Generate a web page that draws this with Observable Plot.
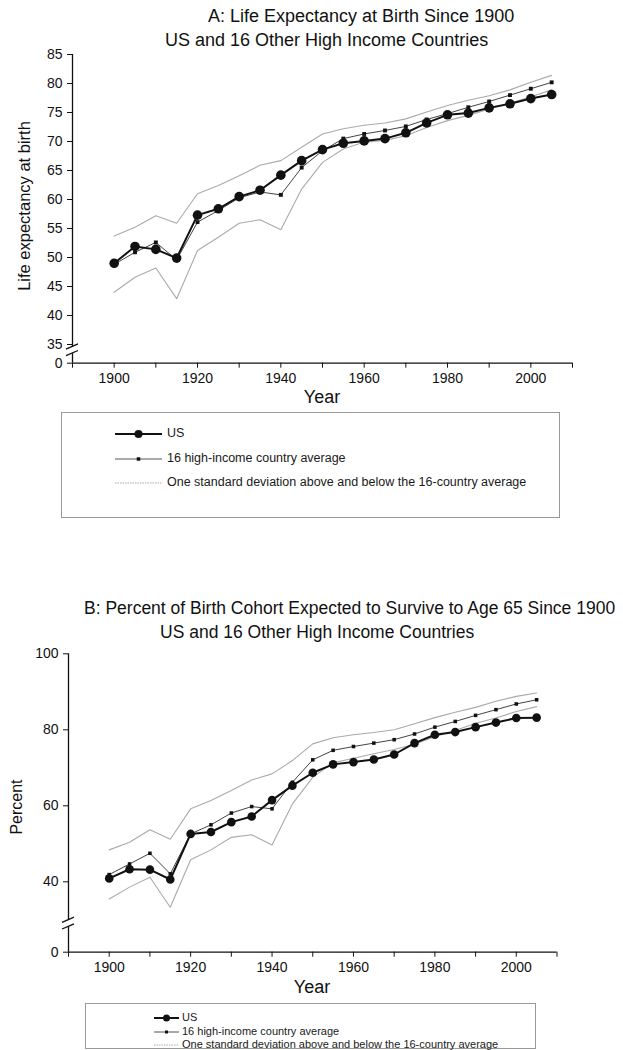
<!DOCTYPE html>
<html>
<head>
<meta charset="utf-8">
<script src="https://cdn.jsdelivr.net/npm/d3@7"></script>
<script src="https://cdn.jsdelivr.net/npm/@observablehq/plot@0.6"></script>
<style>
  body { margin: 0; background: #fff; }
  #page { position: relative; width: 623px; height: 1050px; overflow: hidden;
          font-family: "Liberation Sans", Arial, sans-serif; color: #111; background: #fff; }
  .abs { position: absolute; white-space: nowrap; line-height: 1; }
  .box { position: absolute; border: 1px solid #999; box-sizing: border-box; }
  svg.plot { position: absolute; left: 0; }
</style>
</head>
<body>
<div id="page"></div>
<script>
// ---------------- data ----------------
const years = [1900,1905,1910,1915,1920,1925,1930,1935,1940,1945,1950,1955,1960,1965,1970,1975,1980,1985,1990,1995,2000,2005];

// Panel A: life expectancy at birth
const lifeUS    = [49.0,51.9,51.4,49.9,57.3,58.4,60.5,61.6,64.2,66.7,68.6,69.7,70.1,70.5,71.5,73.2,74.6,74.9,75.8,76.5,77.4,78.1];
const lifeAvg   = [48.8,50.9,52.6,49.6,56.1,58.1,60.3,61.3,60.8,65.5,68.4,70.5,71.3,71.9,72.6,73.8,74.8,75.9,76.9,78.0,79.1,80.2];
const lifeUpper = [53.7,55.2,57.2,55.9,61.0,62.4,64.1,65.9,66.7,69.0,71.3,72.2,72.8,73.2,73.9,75.1,76.2,77.1,77.9,78.9,80.2,81.4];
const lifeLower = [44.0,46.6,48.2,42.9,51.2,53.5,55.9,56.5,54.8,61.8,66.4,68.7,69.9,70.2,71.0,72.4,73.6,74.5,75.6,76.6,77.7,78.9];

// Panel B: percent of birth cohort surviving to 65
const survUS    = [40.9,43.3,43.2,40.6,52.6,53.1,55.7,57.2,61.5,65.3,68.7,70.9,71.5,72.2,73.5,76.5,78.7,79.4,80.7,81.9,83.1,83.2];
const survAvg   = [41.9,44.7,47.5,42.1,52.6,55.0,58.1,59.8,59.2,66.2,72.1,74.6,75.6,76.5,77.4,78.9,80.7,82.2,83.8,85.3,86.8,87.9];
const survUpper = [48.4,50.4,53.7,51.2,59.2,61.4,64.0,66.8,68.4,71.9,76.3,77.9,78.7,79.3,80.0,81.6,83.2,84.6,85.9,87.5,88.8,89.7];
const survLower = [35.5,38.6,41.2,33.3,45.8,48.4,51.7,52.4,49.7,60.5,67.5,71.3,72.5,73.7,74.8,76.2,78.2,79.8,81.7,83.1,84.8,86.1];

const xDomain = [1890, 2010];
const xTicks = [1890,1900,1910,1920,1930,1940,1950,1960,1970,1980,1990,2000,2010];
const yTicksA = [0,35,40,45,50,55,60,65,70,75,80,85];
const yTicksB = [0,40,60,80,100];
const yDomainA = [0, 34, 85];   // piecewise (broken) axis
const yDomainB = [0, 29, 100];

const titlesA = ["A: Life Expectancy at Birth Since 1900", "US and 16 Other High Income Countries"];
const titlesB = ["B: Percent of Birth Cohort Expected to Survive to Age 65 Since 1900", "US and 16 Other High Income Countries"];
const yLabelA = "Life expectancy at birth";
const yLabelB = "Percent";
const xLabel = "Year";
const legendLabels = ["US", "16 high-income country average", "One standard deviation above and below the 16-country average"];

// ---------------- helpers ----------------
const FONT = '"Liberation Sans", Arial, sans-serif';
const page = document.getElementById("page");

function addText(txt, css) {
  const d = document.createElement("div");
  d.className = "abs";
  d.textContent = txt;
  Object.assign(d.style, css);
  page.appendChild(d);
  return d;
}

function rows(us, avg, up, lo) {
  return years.map((year, i) => ({year, us: us[i], avg: avg[i], upper: up[i], lower: lo[i]}));
}

function breakMark(value) {
  return (index, scales) => {
    const x = scales.x(xDomain[0]);
    const y = scales.y(value);
    const g = d3.create("svg:g");
    g.append("rect").attr("x", x - 3).attr("y", y - 3).attr("width", 6).attr("height", 6).attr("fill", "white");
    for (const dy of [-3.3, 3.3]) {
      g.append("line")
        .attr("x1", x - 6).attr("x2", x + 6)
        .attr("y1", y + dy + 2.6).attr("y2", y + dy - 2.6)
        .attr("stroke", "#111").attr("stroke-width", 1.3);
    }
    return g.node();
  };
}

function panel({data, top, height, marginLeft, marginRight, yDomain, yRange, yTicks, rUS, rAvg}) {
  const chart = Plot.plot({
    width: 623,
    height,
    marginLeft,
    marginRight,
    marginTop: yRange[yRange.length - 1],
    marginBottom: height - yRange[0],
    style: {fontFamily: FONT, fontSize: "14px", color: "#111", background: "transparent", overflow: "visible"},
    x: {domain: xDomain, ticks: xTicks, tickFormat: d => d % 20 === 0 ? String(d) : "", tickSize: 5, tickPadding: 5, label: null},
    y: {type: "linear", domain: yDomain, range: yRange, ticks: yTicks, tickFormat: d => String(d), tickSize: 5, tickPadding: 5, label: null},
    marks: [
      Plot.line(data, {x: "year", y: "upper", stroke: "#aaa", strokeWidth: 1.1}),
      Plot.line(data, {x: "year", y: "lower", stroke: "#aaa", strokeWidth: 1.1}),
      Plot.line(data, {x: "year", y: "avg", stroke: "#444", strokeWidth: 1}),
      Plot.dot(data, {x: "year", y: "avg", symbol: "square", r: rAvg, fill: "#111", stroke: "none"}),
      Plot.line(data, {x: "year", y: "us", stroke: "#111", strokeWidth: 2}),
      Plot.dot(data, {x: "year", y: "us", r: rUS, fill: "#111", stroke: "none"}),
      Plot.ruleY([yDomain[0]], {stroke: "#111", strokeWidth: 1.3}),
      Plot.ruleX([xDomain[0]], {y1: yDomain[0], y2: yDomain[yDomain.length - 1], stroke: "#111", strokeWidth: 1.3}),
      breakMark(yDomain[1])
    ]
  });
  chart.classList.add("plot");
  chart.style.top = top + "px";
  page.appendChild(chart);
}

function legend({left, top, width, height, ys, x1, x2, textX, fontSize, rUS, sq}) {
  const box = document.createElement("div");
  box.className = "box";
  Object.assign(box.style, {left: left + "px", top: top + "px", width: width + "px", height: height + "px"});
  page.appendChild(box);
  const svg = d3.create("svg").attr("width", 623).attr("height", 1050)
    .style("position", "absolute").style("left", "0px").style("top", "0px");
  const xm = (x1 + x2) / 2;
  // US
  svg.append("line").attr("x1", x1).attr("x2", x2).attr("y1", ys[0]).attr("y2", ys[0]).attr("stroke", "#111").attr("stroke-width", 2);
  svg.append("circle").attr("cx", xm).attr("cy", ys[0]).attr("r", rUS).attr("fill", "#111");
  // average
  svg.append("line").attr("x1", x1).attr("x2", x2).attr("y1", ys[1]).attr("y2", ys[1]).attr("stroke", "#555").attr("stroke-width", 1);
  svg.append("rect").attr("x", xm - sq / 2).attr("y", ys[1] - sq / 2).attr("width", sq).attr("height", sq).attr("fill", "#111");
  // sd
  svg.append("line").attr("x1", x1).attr("x2", x2).attr("y1", ys[2]).attr("y2", ys[2]).attr("stroke", "#aaa").attr("stroke-width", 1).attr("stroke-dasharray", "1.5,1");
  page.appendChild(svg.node());
  legendLabels.forEach((lab, i) => {
    addText(lab, {left: textX + "px", top: (ys[i] - fontSize * 0.55) + "px", fontSize: fontSize + "px", color: "#1a1a1a"});
  });
}

// ---------------- panel A ----------------
addText(titlesA[0], {left: "208px", top: "7px", fontSize: "18px"});
addText(titlesA[1], {left: "165px", top: "31px", fontSize: "18px"});
panel({
  data: rows(lifeUS, lifeAvg, lifeUpper, lifeLower),
  top: 40, height: 370, marginLeft: 72, marginRight: 51,
  yDomain: yDomainA, yRange: [322.7, 309.8, 14], yTicks: yTicksA, rUS: 4.8, rAvg: 2.2
});
addText(xLabel, {left: "322px", top: "388px", fontSize: "18px", transform: "translateX(-50%)"});
addText(yLabelA, {left: "24px", top: "206px", fontSize: "16.5px", transform: "translate(-50%,-50%) rotate(-90deg)"});
legend({left: 61, top: 412, width: 499, height: 106, ys: [434, 459, 483], x1: 115, x2: 162, textX: 167, fontSize: 12.5, rUS: 4, sq: 3.5});

// ---------------- panel B ----------------
addText(titlesB[0], {left: "84px", top: "600px", fontSize: "17.5px"});
addText(titlesB[1], {left: "160px", top: "624px", fontSize: "17.5px"});
panel({
  data: rows(survUS, survAvg, survUpper, survLower),
  top: 640, height: 360, marginLeft: 68, marginRight: 66.5,
  yDomain: yDomainB, yRange: [311.7, 283.1, 13.3], yTicks: yTicksB, rUS: 4.3, rAvg: 2
});
addText(xLabel, {left: "312px", top: "978px", fontSize: "18px", transform: "translateX(-50%)"});
addText(yLabelB, {left: "17px", top: "807px", fontSize: "16px", transform: "translate(-50%,-50%) rotate(-90deg)"});
legend({left: 85, top: 1003, width: 451, height: 46, ys: [1018, 1032, 1045], x1: 154, x2: 179, textX: 182, fontSize: 11, rUS: 3.5, sq: 3});
</script>
</body>
</html>
